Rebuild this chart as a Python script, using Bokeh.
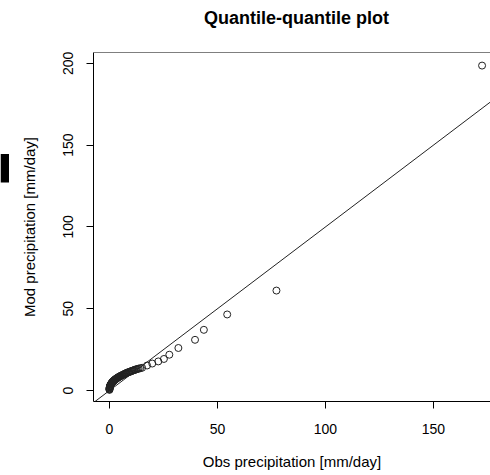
from bokeh.plotting import figure
from bokeh.layouts import column, row
from bokeh.models import FixedTicker, Span, Slope, Range1d
from bokeh.core.properties import value
from bokeh.embed import file_html
from bokeh.resources import INLINE

# Sorted observed and modelled daily precipitation quantiles [mm/day]
obs_quantiles = [
    0.0, 0.0, 0.0, 0.0, 0.1, 0.1, 0.2, 0.2, 0.3, 0.3, 0.4, 0.5, 0.6, 0.7,
    0.8, 0.9, 1.0, 1.1, 1.2, 1.3, 1.4, 1.5, 1.7, 1.8, 2.0, 2.1, 2.3, 2.4,
    2.6, 2.7, 2.9, 3.0, 3.2, 3.4, 3.6, 3.8, 4.0, 4.2, 4.4, 4.6, 4.8, 5.0,
    5.3, 5.6, 5.9, 6.2, 6.5, 6.8, 7.1, 7.4, 7.7, 8.0, 8.4, 8.8, 9.2, 9.6,
    10.0, 10.4, 10.8, 11.2, 11.6, 12.0, 12.5, 13.0, 13.5, 14.2,
    15.1, 17.4, 19.8, 22.6, 25.2, 27.7, 31.9, 39.6, 43.7, 54.5, 77.3, 172.5,
]
mod_quantiles = [
    0.4, 0.7, 1.0, 1.3, 1.6, 1.9, 2.2, 2.5, 2.7, 3.0, 3.2, 3.5, 3.7, 3.9,
    4.1, 4.3, 4.5, 4.7, 4.9, 5.1, 5.3, 5.4, 5.6, 5.8, 6.0, 6.2, 6.3, 6.5,
    6.7, 6.8, 7.0, 7.1, 7.3, 7.5, 7.7, 7.8, 8.0, 8.2, 8.3, 8.5, 8.7, 8.8,
    9.0, 9.2, 9.4, 9.6, 9.8, 10.0, 10.2, 10.4, 10.6, 10.8, 11.0, 11.2, 11.4, 11.6,
    11.8, 12.0, 12.2, 12.4, 12.6, 12.8, 13.0, 13.2, 13.4, 13.6,
    13.9, 15.3, 16.5, 17.8, 19.3, 21.9, 26.0, 31.0, 37.1, 46.5, 61.1, 198.6,
]

x_ticks = [0, 50, 100, 150]
y_ticks = [0, 50, 100, 150, 200]

FONT = "Liberation Sans"
TITLE_H = 35
LEFT_STRIP_W = 9


def bare_figure(width, height, x_range, y_range):
    f = figure(width=width, height=height, x_range=x_range, y_range=y_range,
               output_backend="svg", toolbar_location=None,
               x_axis_type=None, y_axis_type=None,
               min_border=0, background_fill_color="white",
               border_fill_color="white")
    f.outline_line_color = None
    f.xgrid.visible = False
    f.ygrid.visible = False
    return f


# Title strip
title_fig = bare_figure(490, TITLE_H, Range1d(0, 490), Range1d(TITLE_H, 0))
title_fig.text(x=[296], y=[17], text=["Quantile-quantile plot"],
               text_align="center", text_baseline="middle",
               text_font=value(FONT), text_font_size="18px",
               text_font_style="bold", text_color="black")

# Main quantile-quantile panel
p = figure(
    width=490 - LEFT_STRIP_W, height=475 - TITLE_H,
    x_range=Range1d(-7.4, 176.4), y_range=Range1d(-6.7, 206.6),
    output_backend="svg", toolbar_location=None,
    min_border_left=93 - LEFT_STRIP_W, min_border_right=0,
    min_border_top=52 - TITLE_H, min_border_bottom=74,
    background_fill_color="white", border_fill_color="white",
)
p.outline_line_color = None

for ax, ticks in ((p.xaxis[0], x_ticks), (p.yaxis[0], y_ticks)):
    ax.ticker = FixedTicker(ticks=ticks)
    ax.minor_tick_line_color = None
    ax.major_tick_in = 0
    ax.major_tick_out = 7
    ax.major_tick_line_color = "black"
    ax.axis_line_color = "black"
    ax.major_label_text_font = FONT
    ax.major_label_text_font_size = "14px"
    ax.major_label_text_color = "black"
    ax.axis_label_text_font = FONT
    ax.axis_label_text_font_size = "15px"
    ax.axis_label_text_font_style = "normal"
    ax.axis_label_text_color = "black"

p.xaxis.axis_label = "Obs precipitation [mm/day]"
p.yaxis.axis_label = "Mod precipitation [mm/day]"
p.xaxis.major_label_standoff = 15
p.xaxis.axis_label_standoff = 16
p.yaxis.major_label_orientation = "vertical"
p.yaxis.major_label_standoff = 13
p.yaxis.axis_label_standoff = 23

p.xgrid.visible = False
p.ygrid.visible = False

# Top edge of the plot box
p.add_layout(Span(location=206.6, dimension="width", line_color="black", line_width=1))

# 1:1 reference line
p.add_layout(Slope(gradient=1, y_intercept=0, line_color="#222222", line_width=1))

# Quantile pairs
p.scatter(obs_quantiles, mod_quantiles, marker="circle", size=7,
          fill_color=None, line_color="#222222", line_width=1)

# Narrow strip on the far left with its dark block
strip_h = 475 - TITLE_H
strip = bare_figure(LEFT_STRIP_W, strip_h, Range1d(0, LEFT_STRIP_W), Range1d(strip_h, 0))
strip.quad(left=[0], right=[LEFT_STRIP_W], top=[163 - TITLE_H], bottom=[199 - TITLE_H],
           fill_color="black", line_color=None)

layout = column(title_fig, row(strip, p, spacing=0), spacing=0)

open("out.html", "w").write(file_html(layout, INLINE))
